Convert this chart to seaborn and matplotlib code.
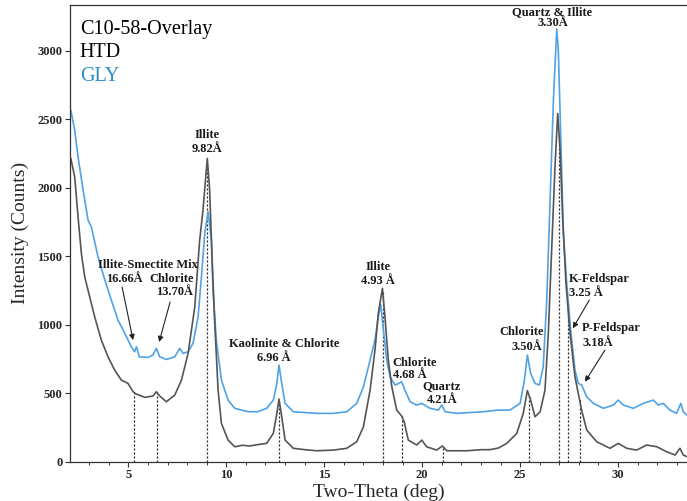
import numpy as np
import pandas as pd
import matplotlib
matplotlib.use("Agg")
import matplotlib.pyplot as plt
import seaborn as sns

# Cu K-alpha wavelength (angstrom) used to place peaks from d-spacings
WAVELENGTH = 1.5406

# HTD scan: two-theta (deg) and intensity (counts)
htd_2theta = [2.06, 2.26, 2.43, 2.60, 2.77, 2.94, 3.28, 3.62, 3.96, 4.30, 4.64, 4.98,
              5.24, 5.41, 5.84, 6.26, 6.43, 6.60, 6.94, 7.37, 7.71, 8.05, 8.39, 8.64,
              8.81, 8.95, 9.03, 9.15, 9.27, 9.41, 9.58, 9.75, 10.09, 10.43, 10.80, 11.20,
              11.60, 12.06, 12.40, 12.58, 12.69, 12.83, 13.00, 13.42, 14.00, 14.62, 15.47,
              16.15, 16.66, 17.00, 17.34, 17.59, 17.76, 17.97, 18.10, 18.27, 18.45, 18.70,
              18.95, 19.08, 19.29, 19.72, 19.98, 20.23, 20.74, 21.03, 21.26, 22.28, 23.00,
              23.46, 23.89, 24.32, 24.83, 25.16, 25.37, 25.54, 25.76, 26.02, 26.27, 26.44,
              26.61, 26.78, 26.92, 27.04, 27.17, 27.34, 27.55, 27.80, 27.97, 28.14, 28.40,
              28.91, 29.59, 30.01, 30.44, 30.95, 31.46, 31.97, 32.48, 32.91, 33.16, 33.33,
              33.52]
htd_counts = [2215, 2080, 1788, 1521, 1350, 1253, 1058, 888, 766, 669, 596, 572,
              511, 494, 470, 480, 511, 480, 438, 487, 596, 791, 1131, 1618,
              1837, 2080, 2215, 1983, 1496, 1010, 523, 280, 158, 109, 120, 115,
              125, 134, 207, 353, 457, 328, 158, 98, 88, 80, 85,
              98, 146, 255, 523, 815, 1083, 1266, 1058, 742, 547, 377,
              334, 292, 158, 122, 158, 109, 85, 115, 80, 80, 88,
              88, 100, 134, 207, 353, 520, 450, 328, 365, 523, 937,
              1545, 2153, 2543, 2275, 1788, 1302, 937, 620, 499, 377, 231,
              146, 98, 134, 98, 85, 122, 110, 73, 49, 98, 49,
              37]

# GLY scan: two-theta (deg) and intensity (counts)
gly_2theta = [2.06, 2.26, 2.43, 2.69, 2.94, 3.11, 3.45, 3.80, 4.13, 4.47, 4.82, 5.15,
              5.32, 5.41, 5.56, 6.01, 6.26, 6.43, 6.60, 6.94, 7.37, 7.62, 7.79, 8.05,
              8.30, 8.56, 8.73, 8.90, 9.07, 9.24, 9.32, 9.49, 9.75, 10.09, 10.43, 11.11,
              11.60, 12.06, 12.40, 12.58, 12.69, 12.83, 13.00, 13.42, 14.62, 15.47, 16.15,
              16.66, 17.00, 17.34, 17.59, 17.76, 17.88, 18.02, 18.19, 18.36, 18.61, 18.78,
              18.95, 19.12, 19.38, 19.72, 19.98, 20.40, 20.82, 21.00, 21.17, 21.76, 23.12,
              23.89, 24.48, 25.00, 25.22, 25.37, 25.54, 25.76, 25.98, 26.18, 26.36, 26.53,
              26.70, 26.87, 26.95, 27.07, 27.21, 27.38, 27.58, 27.80, 27.97, 28.14, 28.40,
              28.74, 29.25, 29.76, 30.01, 30.27, 30.78, 31.29, 31.80, 32.05, 32.31, 32.65,
              32.99, 33.20, 33.33, 33.52]
gly_counts = [2567, 2421, 2226, 1983, 1764, 1715, 1496, 1326, 1180, 1034, 937, 839,
              803, 839, 766, 762, 780, 828, 766, 747, 766, 828, 791, 803,
              864, 1058, 1350, 1667, 1825, 1618, 1253, 888, 596, 450, 390, 365,
              365, 390, 450, 572, 706, 572, 426, 365, 353, 353, 365,
              426, 547, 742, 888, 1058, 1150, 961, 742, 620, 560, 570,
              584, 523, 438, 414, 426, 390, 377, 414, 365, 353, 365,
              377, 377, 426, 596, 779, 645, 572, 560, 693, 1180, 1910,
              2640, 3160, 3005, 2397, 1667, 1302, 961, 669, 572, 560, 474,
              426, 390, 414, 450, 414, 390, 426, 450, 414, 426, 377,
              353, 426, 365, 341]

# Reference d-spacings (angstrom) marked with dotted drop lines
peak_d = [16.66, 13.70, 9.82, 6.96, 4.93, 4.68, 4.21, 3.50, 3.30, 3.25, 3.18]

# Peak labels: (name, d-spacing text, name x, name y, d x, d y, alignment)
peak_labels = [
    ("Illite-Smectite Mix", None, 6.00, 1434, None, None, "center"),
    (None, "16.66Å", None, None, 4.78, 1334, "center"),
    ("Chlorite", "13.70Å", 7.23, 1334, 7.38, 1239, "center"),
    ("Illite", "9.82Å", 9.00, 2384, 9.00, 2280, "center"),
    ("Kaolinite & Chlorite", "6.96 Å", 12.95, 858, 12.44, 756, "center"),
    ("Illite", "4.93 Å", 17.76, 1421, 17.76, 1321, "center"),
    ("Chlorite", "4.68 Å", 18.50, 723, 18.50, 633, "left"),
    ("Quartz", "4.21Å", 21.00, 555, 21.00, 450, "center"),
    ("Chlorite", "3.50Å", 25.08, 949, 25.37, 839, "center"),
    ("Quartz & Illite", "3.30Å", 26.65, 3280, 26.65, 3200, "center"),
    ("K-Feldspar", "3.25 Å", 27.50, 1331, 27.50, 1234, "left"),
    ("P-Feldspar", "3.18Å", 28.16, 974, 28.16, 864, "left"),
]

# Arrows: (tail x, tail y, head x, head y)
arrows = [
    (4.68, 1275, 5.24, 888),
    (7.13, 1166, 6.57, 874),
    (28.53, 1180, 27.69, 974),
    (29.33, 815, 28.31, 584),
]

HTD_COLOR = "#555555"
GLY_COLOR = "#4fa3e6"
GLY_TEXT = "#2b8cc8"

sns.set_theme(style="ticks")
plt.rcParams["font.family"] = ["Liberation Serif", "DejaVu Serif"]
plt.rcParams["axes.linewidth"] = 0.9
plt.rcParams["axes.edgecolor"] = "#333333"

htd = pd.DataFrame({"two_theta": htd_2theta, "counts": htd_counts})
gly = pd.DataFrame({"two_theta": gly_2theta, "counts": gly_counts})

fig = plt.figure(figsize=(6.87, 5.01), dpi=100)
ax = fig.add_axes([0.1019, 0.0784, 0.8981, 0.9116])

sns.lineplot(data=gly, x="two_theta", y="counts", ax=ax, color=GLY_COLOR,
             linewidth=1.2, estimator=None, sort=True)
sns.lineplot(data=htd, x="two_theta", y="counts", ax=ax, color=HTD_COLOR,
             linewidth=1.2, estimator=None, sort=True)

# Dotted drop lines from the baseline to the HTD trace
peak_2theta = [2 * np.degrees(np.arcsin(WAVELENGTH / (2 * d))) for d in peak_d]
for tt in peak_2theta:
    top = np.interp(tt, htd_2theta, htd_counts)
    ax.plot([tt, tt], [0, top], color="#222222", linestyle=(0, (1.6, 1.6)),
            linewidth=0.9, zorder=1)

label_kw = dict(fontsize=9, fontweight="bold", color="#1a1a1a", va="center")
for name, dtxt, nx, ny, dx, dy, ha in peak_labels:
    if name is not None:
        ax.text(nx, ny, name, ha=ha, **label_kw)
    if dtxt is not None:
        ax.text(dx, dy, dtxt, ha=ha, **label_kw)

for tx, ty, hx, hy in arrows:
    ax.annotate("", xy=(hx, hy), xytext=(tx, ty),
                arrowprops=dict(arrowstyle="-|>", color="#222222", lw=0.8,
                                mutation_scale=8, shrinkA=0, shrinkB=0))

# Title block
ax.text(0.016, 0.947, "C10-58-Overlay", transform=ax.transAxes, fontsize=14.5,
        color="black", va="center", ha="left")
ax.text(0.016, 0.895, "HTD", transform=ax.transAxes, fontsize=14.5,
        color="black", va="center", ha="left")
ax.text(0.016, 0.844, "GLY", transform=ax.transAxes, fontsize=14.5,
        color=GLY_TEXT, va="center", ha="left")

ax.set_xlim(2.02, 33.52)
ax.set_ylim(0, 3335)
ax.set_xticks([5, 10, 15, 20, 25, 30])
ax.set_xticks(np.arange(3, 34, 1), minor=True)
ax.set_yticks([0, 500, 1000, 1500, 2000, 2500, 3000])
ax.tick_params(axis="both", which="major", direction="out", length=3.5,
               width=0.8, color="#333333", labelsize=9, pad=2)
ax.tick_params(axis="x", which="minor", direction="out", length=2.5,
               width=0.7, color="#333333")
for lbl in ax.get_xticklabels() + ax.get_yticklabels():
    lbl.set_fontweight("bold")

ax.spines["right"].set_visible(False)
ax.set_xlabel("Two-Theta (deg)", fontsize=14, labelpad=2)
ax.set_ylabel("Intensity (Counts)", fontsize=14, labelpad=6)
ax.grid(False)

fig.savefig("out.png", dpi=100)
